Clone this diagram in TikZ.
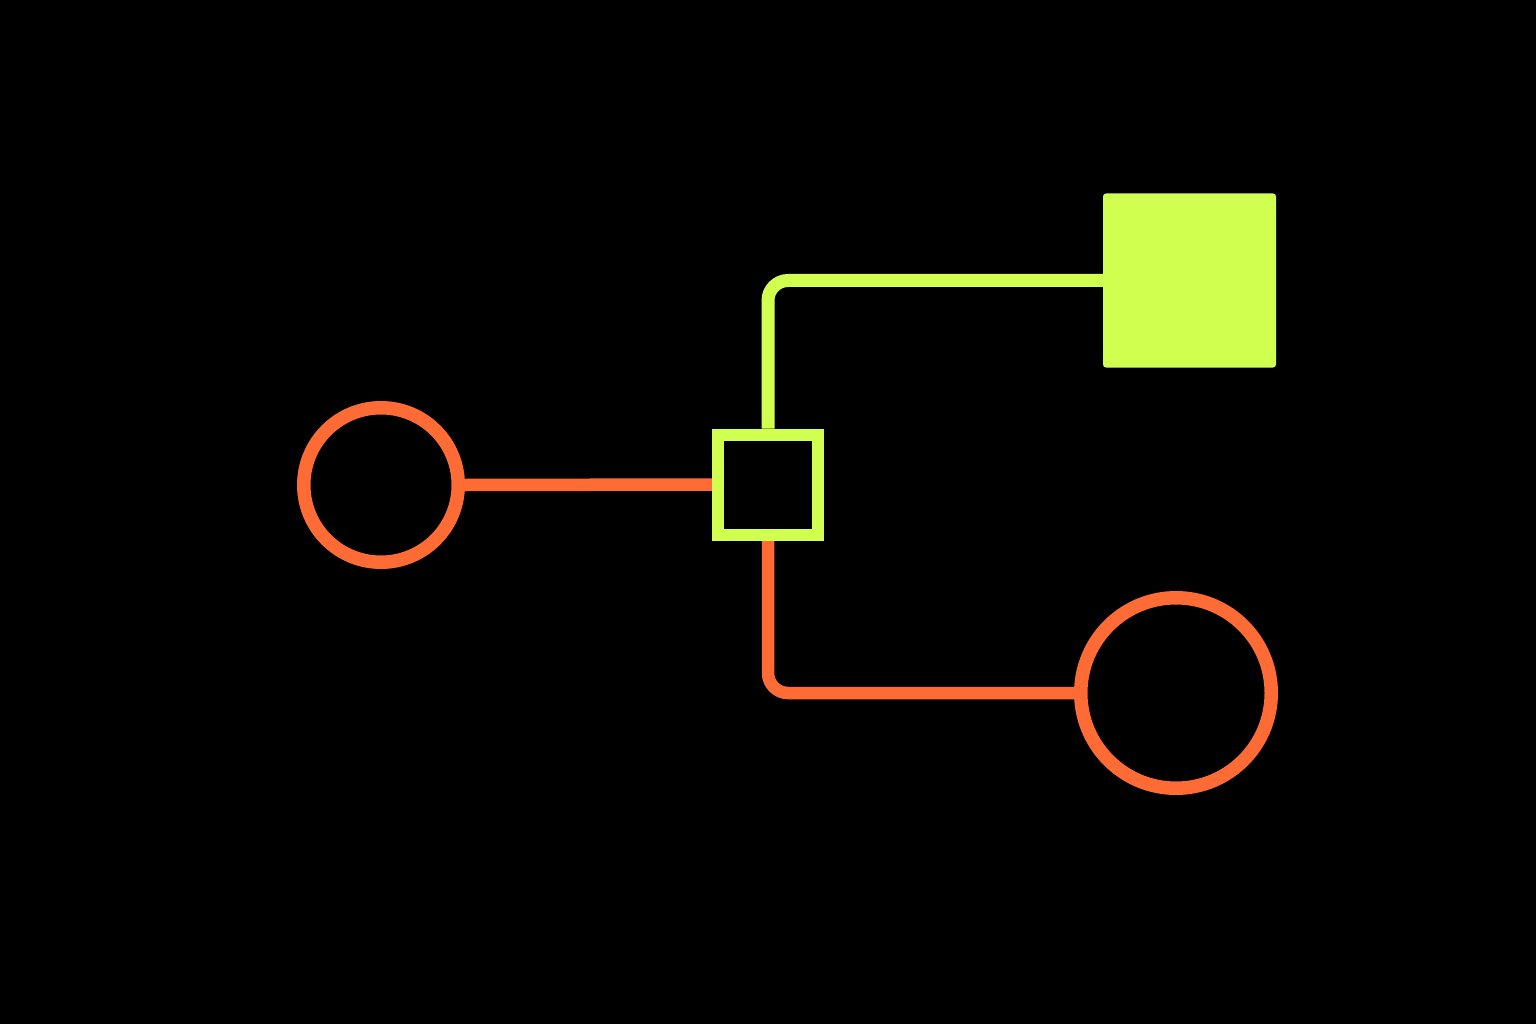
\documentclass[tikz,border=0pt]{standalone}
\usetikzlibrary{backgrounds}
\definecolor{neonorange}{RGB}{255,107,53}
\definecolor{neongreen}{RGB}{208,255,80}
\pgfdeclarelayer{lines}
\pgfsetlayers{background,lines,main}
\begin{document}
\begin{tikzpicture}[x=1pt,y=-1pt,
  ring/.style={circle,draw=neonorange,line width=13.5pt,inner sep=0pt},
  hubbox/.style={rectangle,draw=neongreen,line width=12pt,inner sep=0pt,minimum size=100pt},
  solidbox/.style={rectangle,fill=neongreen,rounded corners=3pt,inner sep=0pt,minimum width=173pt,minimum height=174pt},
  orangeline/.style={draw=neonorange,line width=12.5pt},
  greenline/.style={draw=neongreen,line width=13pt}]
\begin{scope}[on background layer]
\fill[black] (0,0) rectangle (1536,1024);
\end{scope}
\useasboundingbox (0,0) rectangle (1536,1024);

\node[ring,minimum size=154.5pt] (c1) at (381,485) {};
\node[hubbox] (hub) at (768,484.5) {};
\node[solidbox] (box) at (1189.5,280.5) {};
\node[ring,minimum size=190.5pt] (c2) at (1176,693) {};

\begin{pgfonlayer}{lines}
\draw[orangeline] (c1.east) -- (hub.west);
\draw[greenline,rounded corners=20pt] (hub.north) |- (box.west);
\draw[orangeline,rounded corners=20pt] (hub.south) |- (c2.west);
\end{pgfonlayer}
\end{tikzpicture}
\end{document}
